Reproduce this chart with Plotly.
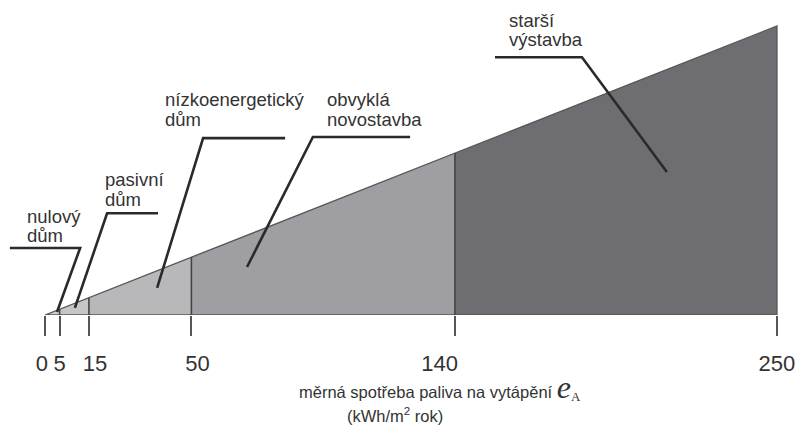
import plotly.graph_objects as go

# Category boundaries on the e_A axis (kWh/m2 rok)
boundaries = [0, 5, 15, 50, 140, 250]
tick_labels = ["0", "5", "15", "50", "140", "250"]
segment_names = [["nulový", "dům"], ["pasivní", "dům"], ["nízkoenergetický", "dům"],
                 ["obvyklá", "novostavba"], ["starší", "výstavba"]]
segment_colors = ["#cfcfd1", "#c6c6c9", "#b8b8bb", "#9f9fa3", "#6e6e72"]

# Label nudges (number of non-breaking spaces before / after each tick label)
NB = "\u00a0"
tick_pad = [(0, 1), (0, 0), (2, 0), (2, 0), (0, 5), (0, 0)]

# Callout geometry in data units: first-line anchor (x, y); leader: start of horizontal,
# elbow, and end point inside the wedge
label_pos = [(-6.8, 85.5), (19.8, 117), (40.3, 186), (95.6, 186), (157.8, 255)]
line_gap = 17.0
leaders = [
    [(-12.0, 58), (12.0, 58), (4.1, 2.6)],
    [(38.6, 88), (21.2, 88), (10.2, 6.1)],
    [(82.0, 153), (54.0, 153), (38.3, 23.4)],
    [(124.7, 154), (91.5, 154), (69.0, 41.5)],
    [(153.7, 223), (183.4, 223), (212.4, 123.7)],
]

FONT = "Liberation Sans, Arial, sans-serif"
TXT = "#333333"

fig = go.Figure()

# Filled segments of the wedge (height proportional to e_A)
for i in range(len(boundaries) - 1):
    a, b = boundaries[i], boundaries[i + 1]
    fig.add_trace(go.Scatter(
        x=[a, b, b, a, a], y=[0, 0, b, a, 0],
        fill="toself", fillcolor=segment_colors[i],
        mode="lines", line=dict(width=0), hoverinfo="skip", showlegend=False))

# Outline of wedge
lo, hi = boundaries[0], boundaries[-1]
fig.add_trace(go.Scatter(
    x=[lo, hi, hi, lo], y=[lo, hi, 0, 0], mode="lines",
    line=dict(color="#555555", width=1.3), hoverinfo="skip", showlegend=False))

# Vertical separators
sx, sy = [], []
for v in boundaries[1:-1]:
    sx += [v, v, None]
    sy += [0, v, None]
fig.add_trace(go.Scatter(x=sx, y=sy, mode="lines",
                         line=dict(color="#444444", width=1.6),
                         hoverinfo="skip", showlegend=False))

# Callout leaders and labels
for (lx, ly), lines, pts in zip(label_pos, segment_names, leaders):
    path = "M {},{} L {},{} L {},{}".format(pts[0][0], pts[0][1], pts[1][0], pts[1][1],
                                            pts[2][0], pts[2][1])
    fig.add_shape(type="path", path=path, xref="x", yref="y",
                  line=dict(color="#2a2a2a", width=2.6))
    for k, t in enumerate(lines):
        fig.add_annotation(x=lx, y=ly - k * line_gap, xref="x", yref="y", text=t,
                           showarrow=False, xanchor="left", yanchor="middle",
                           align="left", font=dict(family=FONT, size=18.5, color=TXT))

# Axis title (two lines)
fig.add_annotation(
    x=86.0, y=-0.229, xref="x", yref="paper", showarrow=False, xanchor="left",
    yanchor="middle",
    text=("měrná spotřeba paliva na vytápění "
          "<span style='font-family:Liberation Serif;font-size:32px'><i>e</i></span>"
          "<sub><span style='font-family:Liberation Serif;font-size:13px'>A</span></sub>"),
    font=dict(family=FONT, size=16.5, color=TXT))
fig.add_annotation(
    x=102.5, y=-0.318, xref="x", yref="paper", showarrow=False, xanchor="left",
    yanchor="middle", text="(kWh/m<sup>2</sup> rok)",
    font=dict(family=FONT, size=16.5, color=TXT))

ticktext = [NB * p0 + t + NB * p1 for t, (p0, p1) in zip(tick_labels, tick_pad)]

fig.update_xaxes(range=[-15.37, 256.5], tickvals=boundaries, ticktext=ticktext,
                 tickangle=0, ticks="outside", ticklen=20, tickwidth=1.5,
                 tickcolor="#555555", showline=False, showgrid=False, zeroline=False,
                 ticklabelstandoff=9,
                 tickfont=dict(family=FONT, size=22, color=TXT))
fig.update_yaxes(range=[0, 272.5], visible=False, showgrid=False, zeroline=False)

fig.update_layout(width=796, height=430, plot_bgcolor="white", paper_bgcolor="white",
                  margin=dict(l=0, r=0, t=0, b=115, autoexpand=False),
                  showlegend=False)

fig.write_html("out.html", config={"displayModeBar": False},
               post_script="document.body.style.margin='0';")
